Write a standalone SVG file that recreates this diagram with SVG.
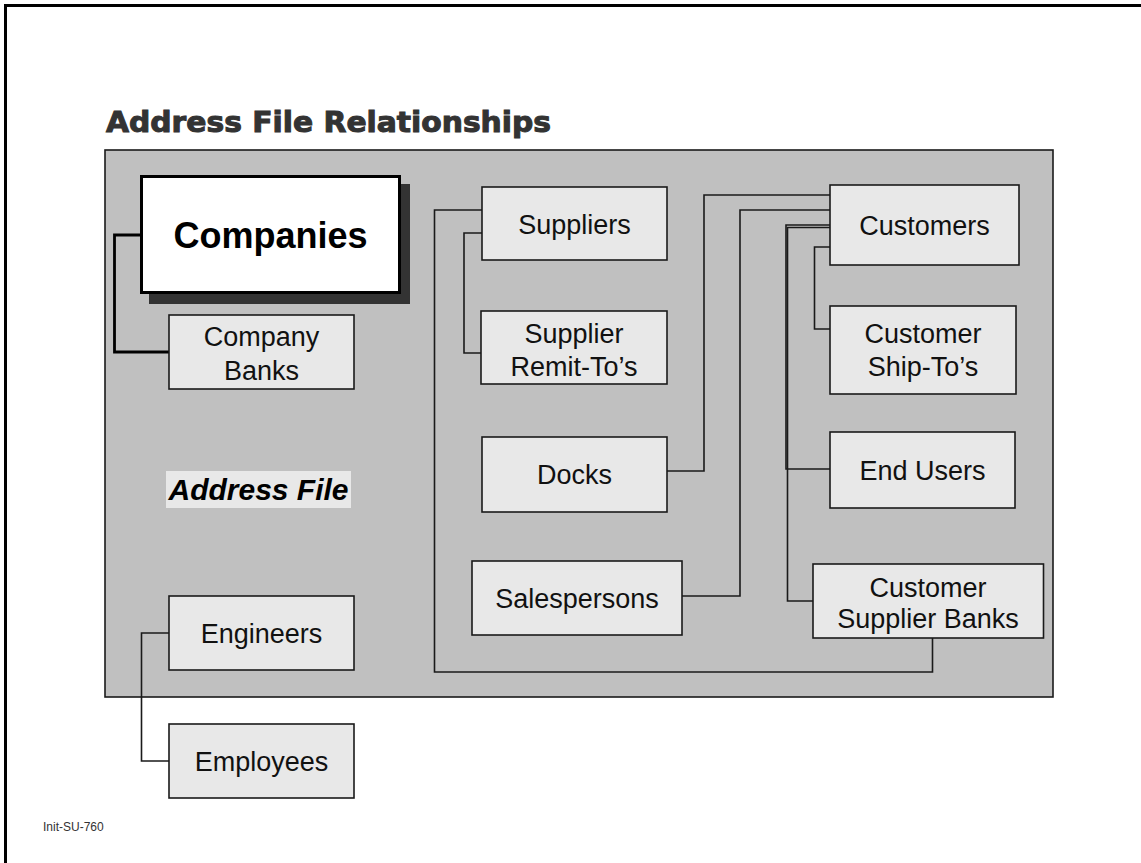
<svg xmlns="http://www.w3.org/2000/svg" width="1141" height="863" viewBox="0 0 1141 863">
<style>
.box{fill:#e8e8e8;stroke:#1a1a1a;stroke-width:1.6}
.lbl{font-family:"Liberation Sans",Arial,sans-serif;font-size:27px;fill:#111;text-anchor:middle}
.con{fill:none;stroke:#1a1a1a;stroke-width:1.6}
</style>
<rect width="1141" height="863" fill="#ffffff"/>
<path d="M5.5,863 V5.5 H1141" fill="none" stroke="#000" stroke-width="3"/>
<text x="106" y="132" font-family="'DejaVu Sans',sans-serif" font-weight="bold" font-size="28" fill="#333" stroke="#333" stroke-width="1" textLength="445" lengthAdjust="spacingAndGlyphs">Address File Relationships</text>
<rect id="panel" x="105" y="150" width="948" height="547" fill="#c0c0c0" stroke="#1a1a1a" stroke-width="1.6"/>
<g id="connectors">
<path class="con" d="M141,235 H114.5 V352 H169" style="stroke-width:2.8;stroke:#000"/>
<path class="con" d="M482,233 H464 V353 H481"/>
<path class="con" d="M482,210 H434.5 V672 H932.5 V638"/>
<path class="con" d="M667,471 H704 V195 H830"/>
<path class="con" d="M682,596 H740 V210 H830"/>
<path class="con" d="M830,225 H786 V469 H830"/>
<path class="con" d="M830,227.5 H787.5 V601 H813"/>
<path class="con" d="M830,247 H814.5 V329 H830"/>
<path class="con" d="M169,633 H141.5 V761 H169"/>
</g>
<g id="companies">
<rect x="149" y="184" width="261" height="120" fill="#333"/>
<rect x="141.5" y="176.5" width="258" height="116" fill="#fff" stroke="#000" stroke-width="3"/>
<text x="270.5" y="248" font-family="'Liberation Sans',Arial,sans-serif" font-weight="bold" font-size="36" fill="#000" text-anchor="middle">Companies</text>
</g>
<g id="company-banks">
<rect class="box" x="169" y="315" width="185" height="74"/>
<text class="lbl" x="261.5" y="346">Company</text>
<text class="lbl" x="261.5" y="380">Banks</text>
</g>
<g id="address-file">
<rect x="166" y="471" width="185" height="37" fill="#e8e8e8"/>
<text x="258.5" y="500" font-family="'Liberation Sans',Arial,sans-serif" font-weight="bold" font-style="italic" font-size="30" fill="#000" text-anchor="middle">Address File</text>
</g>
<g id="engineers">
<rect class="box" x="169" y="596" width="185" height="74"/>
<text class="lbl" x="261.5" y="642.5">Engineers</text>
</g>
<g id="employees">
<rect class="box" x="169" y="724" width="185" height="74"/>
<text class="lbl" x="261.5" y="770.5">Employees</text>
</g>
<g id="suppliers">
<rect class="box" x="482" y="187" width="185" height="73"/>
<text class="lbl" x="574.5" y="233.5">Suppliers</text>
</g>
<g id="supplier-remit">
<rect class="box" x="481" y="311" width="186" height="73"/>
<text class="lbl" x="574" y="343">Supplier</text>
<text class="lbl" x="574" y="376">Remit-To’s</text>
</g>
<g id="docks">
<rect class="box" x="482" y="437" width="185" height="75"/>
<text class="lbl" x="574.5" y="484">Docks</text>
</g>
<g id="salespersons">
<rect class="box" x="472" y="561" width="210" height="74"/>
<text class="lbl" x="577" y="608">Salespersons</text>
</g>
<g id="customers">
<rect class="box" x="830" y="185" width="189" height="80"/>
<text class="lbl" x="924.5" y="234.5">Customers</text>
</g>
<g id="customer-shipto">
<rect class="box" x="830" y="306" width="186" height="88"/>
<text class="lbl" x="923" y="343">Customer</text>
<text class="lbl" x="923" y="375.5">Ship-To’s</text>
</g>
<g id="end-users">
<rect class="box" x="830" y="432" width="185" height="76"/>
<text class="lbl" x="922.5" y="480">End Users</text>
</g>
<g id="customer-supplier-banks">
<rect class="box" x="813" y="564" width="230.5" height="74"/>
<text class="lbl" x="928" y="597">Customer</text>
<text class="lbl" x="928" y="628">Supplier Banks</text>
</g>
<text x="43" y="831" font-family="'Liberation Sans',Arial,sans-serif" font-size="12" fill="#333">Init-SU-760</text>
</svg>
